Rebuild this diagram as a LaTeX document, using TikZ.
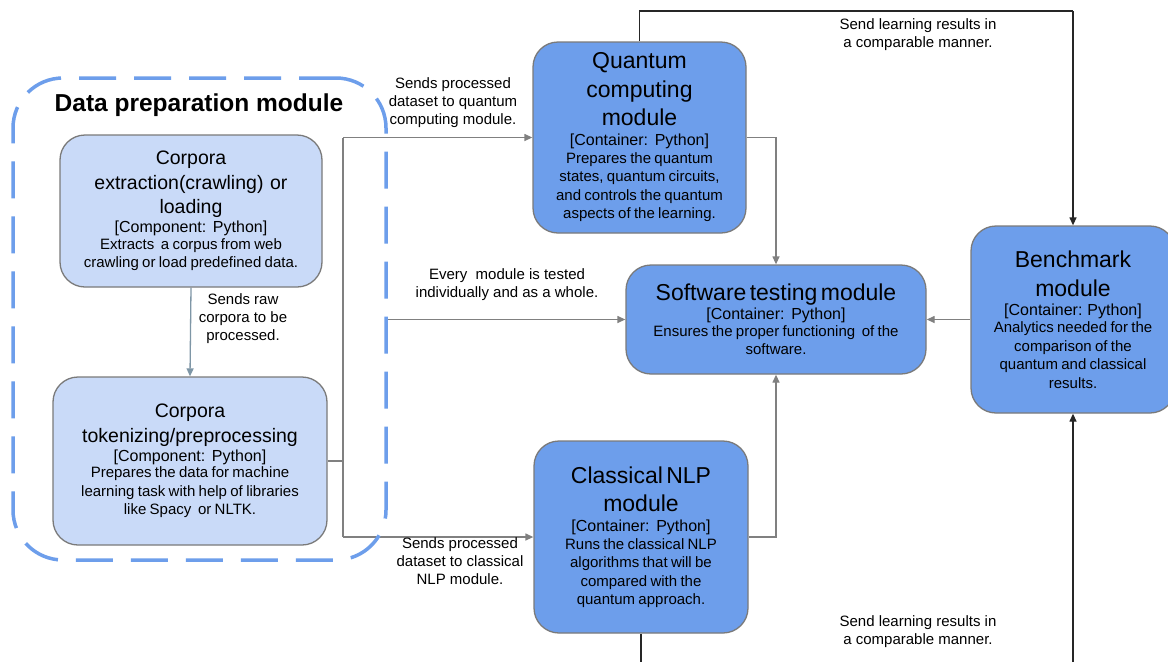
\documentclass[tikz,border=0pt]{standalone}
\usepackage{fontspec}
\setmainfont{Liberation Sans}
\usetikzlibrary{arrows.meta,backgrounds}
\definecolor{darkbox}{HTML}{6D9EEB}
\definecolor{lightbox}{HTML}{C9DAF8}
\definecolor{boxline}{HTML}{7A7A7A}
\definecolor{linegray}{HTML}{808080}
\definecolor{steel}{HTML}{7E96A6}
\definecolor{dashblue}{HTML}{6D9EEB}
\newcommand{\ttlA}{\fontsize{19.5}{24.5}\selectfont}
\newcommand{\ttlB}{\fontsize{23}{28.5}\selectfont}
\newcommand{\dscf}{\fontsize{15}{18.5}\selectfont}
\newcommand{\brkf}{\fontsize{16}{21}\selectfont}
\newcommand{\lblf}{\fontsize{15}{18}\selectfont}
\tikzset{
  x=1pt, y=-1pt,
  dbox/.style={draw=boxline, fill=darkbox, line width=1.3pt, rounded corners=25pt, align=center, inner sep=0pt},
  lbox/.style={draw=boxline, fill=lightbox, line width=1.3pt, rounded corners=25pt, align=center, inner sep=0pt},
  lbl/.style={align=center, inner sep=0pt, font=\lblf},
  conn/.style={draw=linegray, line width=1.3pt},
  blk/.style={draw=black!85, line width=1.3pt},
  tip/.style={-{Triangle[length=8pt,width=7pt]}},
  dashbox/.style={draw=dashblue, line width=3.5pt, dash pattern=on 37pt off 18pt, rounded corners=50pt, inner sep=0pt}
}
\begin{document}
\begin{tikzpicture}
\useasboundingbox (0,0) rectangle (1168,662);

% data preparation container
\node[dashbox, minimum width=373pt, minimum height=482pt] (dp) at (199.5,319) {};
\node[font=\fontsize{24.5}{28}\selectfont\bfseries, anchor=base, inner sep=0pt] (dptitle) at (199,111) {Data preparation module};

% boxes
\node[lbox, minimum width=262pt, minimum height=152pt, text width=254pt] (A) at (191,211)
 {{\ttlA Corpora\\extraction(crawling)~~or\\loading\par}\vspace{-2pt}{\brkf [Component:~~Python]\par}\vspace{-2pt}{\dscf Extracts~~a corpus from web\\crawling or load predefined data.\par}};
\node[lbox, minimum width=274pt, minimum height=168pt, text width=266pt] (B) at (190,461)
 {{\ttlA Corpora\\tokenizing/preprocessing\par}\vspace{-2pt}{\brkf [Component:~~Python]\par}\vspace{-2pt}{\dscf Prepares the data for machine\\learning task with help of libraries\\like Spacy~~or NLTK.\par}};
\node[dbox, minimum width=213pt, minimum height=191pt, text width=205pt] (Q) at (639.5,137.5)
 {{\ttlB Quantum\\computing\\module\par}\vspace{-1pt}{\brkf [Container:~~Python]\par}\vspace{-1pt}{\dscf Prepares the quantum\\states, quantum circuits,\\and controls the quantum\\aspects of the learning.\par}};
\node[dbox, minimum width=300pt, minimum height=109pt, text width=292pt] (S) at (776,319.5)
 {{\ttlB Software testing module\par}\vspace{-2pt}{\brkf [Container:~~Python]\par}\vspace{-2pt}{\dscf Ensures the proper functioning~~of the\\software.\par}};
\node[dbox, minimum width=214pt, minimum height=192pt, text width=206pt] (C) at (641,537)
 {{\ttlB Classical NLP\\module\par}\vspace{-1pt}{\brkf [Container:~~Python]\par}\vspace{-1pt}{\dscf Runs the classical NLP\\algorithms that will be\\compared with the\\quantum approach.\par}};
\node[dbox, minimum width=204pt, minimum height=187pt, text width=196pt] (Bm) at (1073,319.5)
 {{\ttlB Benchmark\\module\par}\vspace{-2pt}{\brkf [Container: Python]\par}\vspace{-1pt}{\dscf Analytics needed for the\\comparison of the\\quantum and classical\\results.\par}};

% labels
\node[lbl] (l1) at (243,319) {Sends raw\\corpora to be\\processed.};
\node[lbl] (l2) at (453,103) {Sends processed\\dataset to quantum\\computing module.};
\node[lbl] (l3) at (507,285) {Every~~module is tested\\individually and as a whole.};
\node[lbl] (l4) at (918,35) {Send learning results in\\a comparable manner.};
\node[lbl] (l5) at (918,632) {Send learning results in\\a comparable manner.};
\node[lbl] (l6) at (460,561) {Sends processed\\dataset to classical\\NLP module.};

% junction coordinates
\coordinate (jt) at (343,137.5);
\coordinate (jb) at (343,537);
\coordinate (tr) at (1073,11);
\coordinate (br) at (1073,662);
\coordinate (bl) at (641,662);

\begin{pgfonlayer}{background}
\fill[white] (0,0) rectangle (1168,662);
\draw[draw=steel, line width=1.3pt, tip] (A.south) -- (B.north);
\draw[conn] (B.east) -- (B.east -| jt);
\draw[conn] (jt) -- (jb);
\draw[conn, tip] (jt) -- (Q.west);
\draw[conn, tip] (jb) -- (C.west);
\draw[conn, tip] (dp.east |- S.west) -- (S.west);
\draw[conn, tip] (Q.east) -| (S.north);
\draw[conn, tip] (C.east) -| (S.south);
\draw[conn, tip] (Bm.west) -- (S.east);
\draw[blk] (Q.north) |- (tr);
\draw[blk, tip] (tr) -- (Bm.north);
\draw[blk, tip] (br) -- (Bm.south);
\draw[blk] (C.south) -- (bl);
\end{pgfonlayer}
\end{tikzpicture}
\end{document}
